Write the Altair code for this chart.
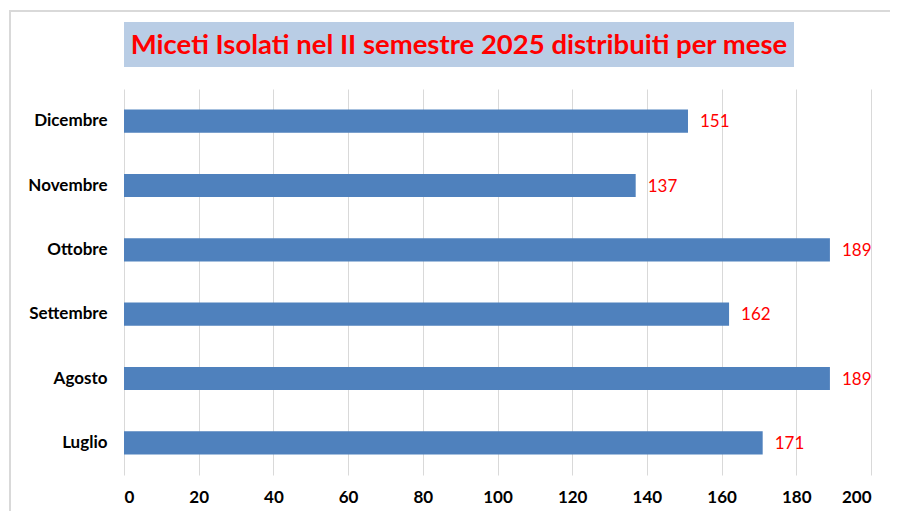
import altair as alt
import pandas as pd

months = ["Dicembre", "Novembre", "Ottobre", "Settembre", "Agosto", "Luglio"]
values = [151, 137, 189, 162, 189, 171]
x_ticks = [0, 20, 40, 60, 80, 100, 120, 140, 160, 180, 200]
title_text = "Miceti Isolati nel II semestre 2025 distribuiti per mese"

df = pd.DataFrame({"mese": months, "valore": values})

W, H = 747, 386
FONT = "Lato"

y_enc = alt.Y("mese:N", sort=months, title=None,
              scale=alt.Scale(paddingInner=0.64, paddingOuter=0.32),
              axis=alt.Axis(labelFont=FONT, labelFontWeight="bold", labelFontSize=17,
                            labelColor="#000000", ticks=False, domain=False,
                            labelPadding=17, grid=False))
x_enc = alt.X("valore:Q", title=None,
              scale=alt.Scale(domain=[0, 200], nice=False),
              axis=alt.Axis(values=x_ticks, labelFont=FONT, labelFontWeight="bold",
                            labelFontSize=17, labelColor="#000000", ticks=False,
                            domain=False, labelPadding=14, grid=True,
                            gridColor="#d9d9d9", gridWidth=1))

# decorative frame and title box
frame = alt.Chart().mark_rect(fill=None, stroke="#d9d9d9", strokeWidth=2).encode(
    x=alt.value(-114), x2=alt.value(W + 120), y=alt.value(-78), y2=alt.value(H + 80))
title_box = alt.Chart().mark_rect(fill="#b9cde5").encode(
    x=alt.value(0), x2=alt.value(670), y=alt.value(-67), y2=alt.value(-22))
title_mark = alt.Chart().mark_text(
    text=title_text, font=FONT, fontWeight="bold", fontSize=27.5, color="#ff0000",
    align="center", baseline="middle").encode(x=alt.value(335), y=alt.value(-43))

bars = alt.Chart(df).mark_bar(color="#4f81bd").encode(x=x_enc, y=y_enc)
labels = alt.Chart(df).mark_text(align="left", baseline="middle", dx=12, dy=1, font=FONT,
                                 fontSize=17, color="#ff0000").encode(
    x="valore:Q", y=alt.Y("mese:N", sort=months), text="valore:Q")

chart = alt.layer(frame, title_box, title_mark, bars, labels).properties(
    width=W, height=H,
    autosize=alt.AutoSizeParams(type="none"),
    padding={"left": 116, "top": 81, "right": 19, "bottom": 36},
    background="#ffffff",
).configure_view(stroke=None)

chart.save("out.html", embed_options={"renderer": "svg", "actions": False})
